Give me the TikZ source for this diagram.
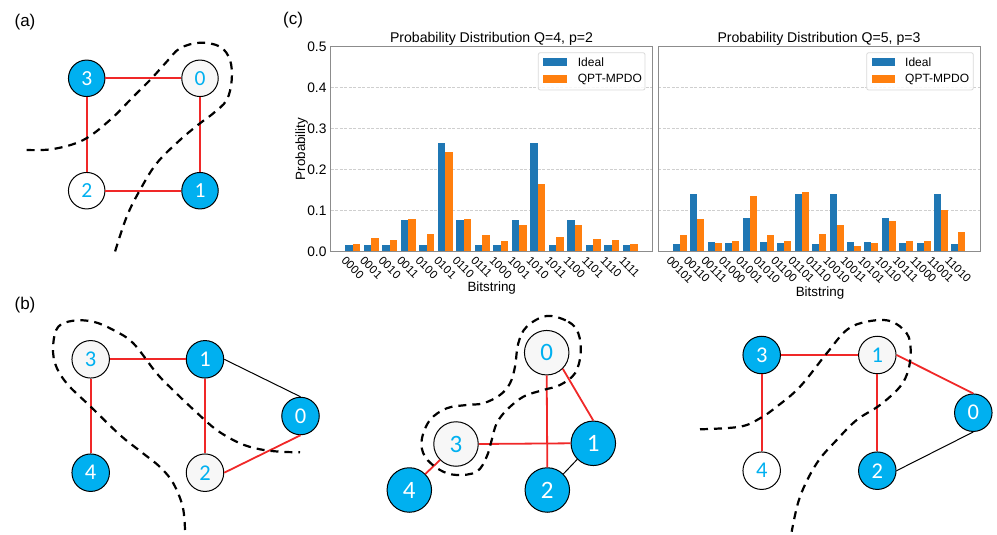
\documentclass[tikz,border=0pt]{standalone}
\usepackage{fontspec}
\setmainfont{Liberation Sans}
\newfontfamily\cfont{Carlito}
\definecolor{nodeblue}{HTML}{00B0F0}
\definecolor{edgered}{HTML}{F02828}
\definecolor{mplblue}{HTML}{1F77B4}
\definecolor{mplorange}{HTML}{FF7F0E}
\definecolor{lightfill}{HTML}{F7F7F7}
\definecolor{spine}{HTML}{8C8C8C}
\definecolor{gridc}{HTML}{CFCFCF}
\begin{document}
\begin{tikzpicture}[x=1pt,y=-1pt,
  gn/.style={circle, draw=black, line width=1pt, inner sep=0pt},
  gb/.style={gn, fill=nodeblue, text=white},
  gw/.style={gn, fill=lightfill, text=nodeblue},
  gww/.style={gn, fill=white, text=nodeblue},
  szA/.style={minimum size=36.5pt, font=\cfont\fontsize{21.5}{21.5}\selectfont},
  szB/.style={minimum size=37.5pt, font=\cfont\fontsize{22.5}{22.5}\selectfont},
  szC/.style={minimum size=44.5pt, font=\cfont\fontsize{25}{25}\selectfont},
  redge/.style={draw=edgered, line width=1.8pt},
  bedge/.style={draw=black, line width=1pt},
  cut/.style={draw=black, line width=2.2pt, dash pattern=on 8pt off 6pt},
  panel/.style={font=\fontsize{17}{17}\selectfont, inner sep=0pt},
  ttl/.style={font=\fontsize{14.1}{14}\selectfont, inner sep=0pt},
  axl/.style={font=\fontsize{13.4}{14}\selectfont, inner sep=0pt},
  yt/.style={font=\fontsize{13.8}{14}\selectfont, inner sep=0pt, anchor=east},
  xt/.style={font=\fontsize{11.5}{11.5}\selectfont, inner sep=0pt, rotate=-45, anchor=north west},
  lg/.style={font=\fontsize{12}{12}\selectfont, inner sep=0pt, anchor=west},
  ideal/.style={fill=mplblue},
  qpt/.style={fill=mplorange},
  gridl/.style={draw=gridc, line width=0.8pt, dash pattern=on 3pt off 1.5pt},
  spinel/.style={draw=spine, line width=1pt},
  legbox/.style={draw=gray!30, fill=white, fill opacity=0.85, rounded corners=2pt, line width=0.8pt}
]
\useasboundingbox (0,0) rectangle (997,535);

% ---------------- panel labels
\node[panel] (pa) at (25,22) {(a)};
\node[panel] (pb) at (25,305) {(b)};
\node[panel] (pc) at (293,20) {(c)};

% ---------------- (a)
\node[gb,szA] (a3) at (86.7,78.3) {3};
\node[gw,szA] (a0) at (200,78.3) {0};
\node[gww,szA] (a2) at (86.7,190.7) {2};
\node[gb,szA] (a1) at (200,190.7) {1};
\draw[redge] (a3) -- (a0);
\draw[redge] (a3) -- (a2);
\draw[redge] (a0) -- (a1);
\draw[redge] (a2) -- (a1);
\draw[cut] plot[smooth, tension=0.6] coordinates {(26.7,150) (53.3,149) (83.3,140) (110,120) (133.3,96.7) (151.7,78.3) (166.7,61.7) (180,48.3) (200,42.7) (220,46.7) (230,60) (231.7,80) (226.7,100) (213.3,113.3) (200,123.3) (180,140) (156.7,163.3) (140,190) (126.7,216.7) (115,251.7)};

% ---------------- (b) left
\node[gw,szB] (b3) at (90.7,359.3) {3};
\node[gb,szB] (b1) at (205,359.3) {1};
\node[gb,szB] (b0) at (300.5,416) {0};
\node[gb,szB] (b4) at (90.7,472.7) {4};
\node[gw,szB] (b2) at (205,472.7) {2};
\draw[redge] (b3) -- (b1);
\draw[redge] (b3) -- (b4);
\draw[redge] (b1) -- (b2);
\draw[bedge] (b1.east) -- (b0.north);
\draw[redge] (b2.east) -- (b0.south);
\draw[cut] plot[smooth, tension=0.6] coordinates {(185,530) (182.7,506.7) (173.3,483.3) (160,467) (140,451) (120,435) (90.7,406.7) (66.7,383.3) (55,363.3) (53.3,343.3) (58.3,326.7) (73.3,320.7) (93.3,321.7) (113.3,330) (133.3,343.3) (156.7,373.3) (175,392) (195,411) (216.7,430) (240,443.3) (260,449.3) (280,451.7) (300,452.3)};

% ---------------- (b) middle
\node[gw,szC] (m0) at (546.7,352.7) {0};
\node[gw,szC] (m3) at (456,444) {3};
\node[gb,szC] (m1) at (593.3,443.3) {1};
\node[gb,szC] (m4) at (409.3,490) {4};
\node[gb,szC] (m2) at (547.3,490) {2};
\draw[redge] (m3.east) -- (m1.west);
\draw[redge] (m0.south) -- (m2.north);
\draw[redge] (m0.south east) -- (m1.north);
\draw[redge] (m3.south west) -- (m4.north east);
\draw[bedge] (m1.south west) -- (m2.north east);
\draw[cut] plot[smooth cycle, tension=0.6] coordinates {(546.7,316) (568.3,321.7) (578.3,333.3) (580.7,353.3) (575,373.3) (560,385) (543.3,390) (523.3,396.7) (506.7,410) (496.7,423.3) (491.7,440) (486.7,456.7) (476.7,471.7) (456.7,475) (440,470) (425,456.7) (421.7,440) (430,420) (446.7,408.3) (466.7,405) (483.3,403.3) (500,395) (510,383.3) (515,366.7) (518.3,343.3) (526.7,326.7)};

% ---------------- (b) right
\node[gb,szB] (r3) at (761.7,355) {3};
\node[gw,szB] (r1) at (877.3,355) {1};
\node[gb,szB] (r0) at (973.3,412.7) {0};
\node[gww,szB] (r4) at (761.7,470.7) {4};
\node[gb,szB] (r2) at (877.3,470.7) {2};
\draw[redge] (r3) -- (r1);
\draw[redge] (r3) -- (r4);
\draw[redge] (r1) -- (r2);
\draw[redge] (r1.east) -- (r0.north);
\draw[bedge] (r2.east) -- (r0.south);
\draw[cut] plot[smooth, tension=0.6] coordinates {(700,429.3) (740,426.7) (760,418.3) (776.7,406.7) (800,386.7) (826.7,353.3) (846.7,330) (866.7,321.7) (890,321) (906.7,333.3) (910.7,350) (908.3,370) (900,386.7) (880,405) (856.7,420) (836.7,440) (816.7,463.3) (800,496.7) (791.7,531.7)};

% ---------------- charts: grid
\foreach \v in {0.1,0.2,0.3,0.4}{
  \draw[gridl] (330.7,{251.7-\v*410}) -- (652.3,{251.7-\v*410});
  \draw[gridl] (658.3,{251.7-\v*410}) -- (980,{251.7-\v*410});
}

% left bars
\foreach \i/\a/\b in {0/0.016/0.018, 1/0.016/0.034, 2/0.016/0.028, 3/0.078/0.079, 4/0.016/0.043, 5/0.266/0.242, 6/0.078/0.079, 7/0.016/0.040, 8/0.016/0.025, 9/0.078/0.065, 10/0.266/0.165, 11/0.016/0.037, 12/0.078/0.064, 13/0.016/0.031, 14/0.016/0.028, 15/0.016/0.018}{
  \pgfmathsetmacro\xc{330.7+(\i+1.19)*18.5}
  \fill[ideal] ({\xc-7.4},{251.7-\a*410}) rectangle (\xc,251.7);
  \fill[qpt] (\xc,{251.7-\b*410}) rectangle ({\xc+7.4},251.7);
}
% right bars
\foreach \i/\a/\b in {0/0.018/0.040, 1/0.141/0.079, 2/0.023/0.020, 3/0.020/0.026, 4/0.083/0.136, 5/0.024/0.040, 6/0.022/0.026, 7/0.141/0.146, 8/0.018/0.042, 9/0.141/0.064, 10/0.023/0.015, 11/0.024/0.021, 12/0.083/0.074, 13/0.020/0.025, 14/0.022/0.027, 15/0.141/0.102, 16/0.018/0.048}{
  \pgfmathsetmacro\xc{658.3+(\i+1.24)*17.41}
  \fill[ideal] ({\xc-7.0},{251.7-\a*410}) rectangle (\xc,251.7);
  \fill[qpt] (\xc,{251.7-\b*410}) rectangle ({\xc+7.0},251.7);
}

% spines
\draw[spinel] (330.7,46.7) rectangle (652.3,251.7);
\draw[spinel] (658.3,46.7) rectangle (980,251.7);

% titles
\node[ttl] (t1) at (491.5,39) {Probability Distribution Q=4, p=2};
\node[ttl] (t2) at (819,39) {Probability Distribution Q=5, p=3};

% y ticks
\foreach \v/\s in {0/0.0,1/0.1,2/0.2,3/0.3,4/0.4,5/0.5}{
  \node[yt] (yt\v) at (326.7,{251.7-\v*41}) {\s};
}
\node[axl, rotate=90] (ylab) at (301.7,149) {Probability};

% x tick labels
\foreach \i/\s in {0/0000,1/0001,2/0010,3/0011,4/0100,5/0101,6/0110,7/0111,8/1000,9/1001,10/1010,11/1011,12/1100,13/1101,14/1110,15/1111}{
  \node[xt] (lx\i) at ({330.7+(\i+1.19)*18.5-6.1},255.5) {\s};
}
\foreach \i/\s in {0/00101,1/00110,2/00111,3/01000,4/01001,5/01010,6/01100,7/01101,8/01110,9/10010,10/10011,11/10101,12/10110,13/10111,14/11000,15/11001,16/11010}{
  \node[xt] (rx\i) at ({658.3+(\i+1.24)*17.41-8.4},255.5) {\s};
}
\node[axl] (xl1) at (491.7,288.3) {Bitstring};
\node[axl] (xl2) at (820,293.3) {Bitstring};

% legends
\draw[legbox] (538.3,52.7) rectangle (645,90);
\fill[ideal] (543.3,58.3) rectangle (566.7,66);
\fill[qpt] (543.3,75) rectangle (566.7,83.3);
\node[lg] (li1) at (577.7,62.2) {Ideal};
\node[lg] (lq1) at (577.7,79.2) {QPT-MPDO};
\draw[legbox] (866.7,52.7) rectangle (973.3,90);
\fill[ideal] (871.7,58.3) rectangle (895,66);
\fill[qpt] (871.7,75) rectangle (895,83.3);
\node[lg] (li2) at (905,62.2) {Ideal};
\node[lg] (lq2) at (905,79.2) {QPT-MPDO};
\end{tikzpicture}
\end{document}
